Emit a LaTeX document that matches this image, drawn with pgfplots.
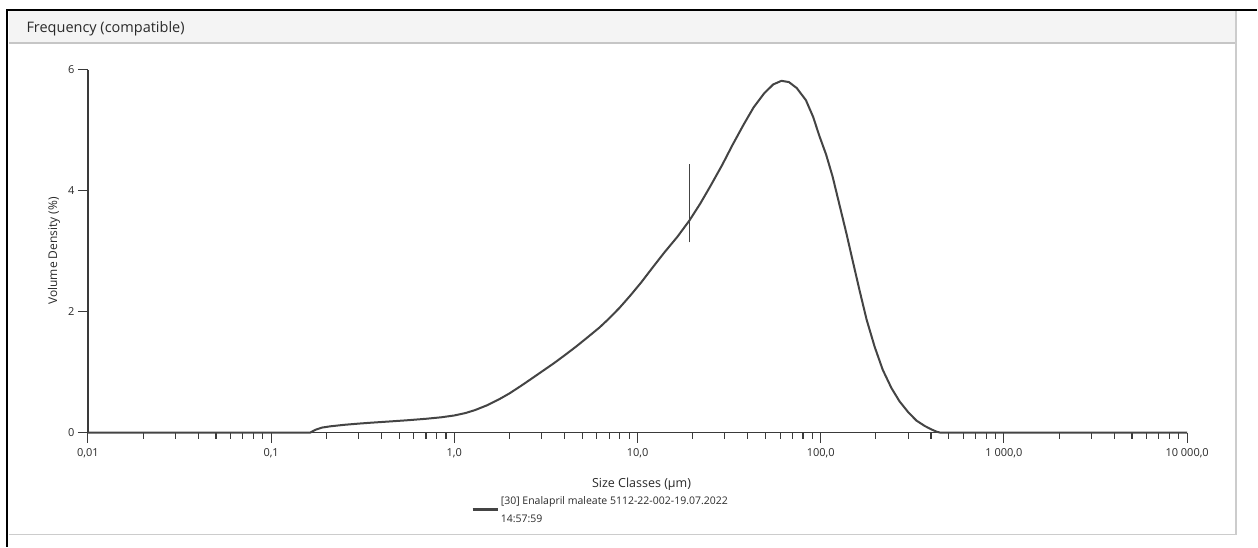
\documentclass[border=0pt]{standalone}
\usepackage{pgfplots}
\pgfplotsset{compat=1.18}
\usepackage{fontspec}
\setmainfont{Open Sans}
\definecolor{curve}{HTML}{444444}
\definecolor{axc}{HTML}{3A3A3A}
\definecolor{txt}{HTML}{2A2A2A}
\begin{document}
\begin{tikzpicture}
\fill[white] (0pt,0pt) rectangle (1258pt,-547pt);
\fill[gray!9] (9pt,-11pt) rectangle (1237pt,-42pt);
\draw[gray!45, line width=1.5pt] (9pt,-43pt) -- (1237pt,-43pt);
\draw[gray!40, line width=1.5pt] (9pt,-535pt) -- (1237pt,-535pt) -- (1237pt,-11pt);
\draw[black, line width=1.8pt] (7pt,-547pt) -- (7pt,-10pt) -- (1258pt,-10pt);
\node[anchor=west, font=\fontsize{14.5}{16}\selectfont, text=txt] at (23pt,-29pt) {Frequency (compatible)};
\begin{axis}[
  at={(88pt,-433pt)}, anchor=south west,
  scale only axis, width=1100pt, height=363pt,
  xmode=log, xmin=0.01, xmax=10000, ymin=0, ymax=6,
  axis lines=left, axis line style={-, axc, line width=1.4pt},
  xtick={0.01,0.1,1,10,100,1000,10000},
  xticklabels={{0,01},{0,1},{1,0},{10,0},{100,0},{1 000,0},{10 000,0}},
  minor xtick={0.02,0.03,0.04,0.05,0.06,0.07,0.08,0.09,0.2,0.3,0.4,0.5,0.6,0.7,0.8,0.9,2,3,4,5,6,7,8,9,20,30,40,50,60,70,80,90,200,300,400,500,600,700,800,900,2000,3000,4000,5000,6000,7000,8000,9000},
  ytick={0,2,4,6},
  tick align=outside,
  major tick length=10pt, minor tick length=6pt,
  tick style={axc, line width=1.1pt},
  /pgf/number format/assume math mode=true,
  tick label style={font=\fontsize{11}{12}\selectfont, text=txt},
  xticklabel style={yshift=-2pt},
  clip=false,
]
\addplot[curve, line width=2pt] coordinates {
(0.01,0) (0.163,0) (0.175,0.05) (0.19,0.085) (0.21,0.105) (0.25,0.13) (0.3,0.15)
(0.35,0.165) (0.44,0.185) (0.55,0.205) (0.7,0.23) (0.85,0.255) (1.0,0.285) (1.15,0.325)
(1.3,0.375) (1.5,0.45) (1.75,0.55) (2.0,0.65) (2.3,0.77) (2.6,0.88) (3.0,1.01)
(3.5,1.15) (4.0,1.28) (4.6,1.42) (5.3,1.57) (6.2,1.74) (7.0,1.89) (8.0,2.07)
(9.2,2.28) (10.5,2.49) (12,2.72) (14,2.98) (16.5,3.24) (19.2,3.51) (22,3.79)
(25,4.08) (29,4.43) (33,4.76) (38,5.1) (43,5.38) (49,5.61) (55,5.76) (61,5.82)
(67,5.80) (74,5.70) (83,5.5) (91,5.22) (98,4.92) (107,4.6) (116,4.24) (127,3.75)
(138,3.3) (149,2.86) (163,2.35) (178,1.87) (197,1.42) (218,1.04) (243,0.74)
(269,0.52) (300,0.34) (333,0.2) (370,0.11) (405,0.05) (430,0.015) (450,0) (10000,0)
};
\addplot[curve, line width=1.6pt] coordinates {(19.2,3.15) (19.2,4.45)};
\end{axis}
\node[rotate=90, font=\fontsize{12}{14}\selectfont, text=txt] at (54pt,-251pt) {Volume Density (\%)};
\node[font=\fontsize{12.5}{14}\selectfont, text=txt] at (642pt,-485pt) {Size Classes (µm)};
\draw[curve, line width=2.4pt] (473pt,-510pt) -- (498pt,-510pt);
\node[anchor=west, inner sep=0pt, font=\fontsize{10.5}{12}\selectfont, text=txt] at (501pt,-502pt) {[30] Enalapril maleate 5112-22-002-19.07.2022};
\node[anchor=west, inner sep=0pt, font=\fontsize{10.5}{12}\selectfont, text=txt] at (501pt,-519pt) {14:57:59};
\end{tikzpicture}
\end{document}
